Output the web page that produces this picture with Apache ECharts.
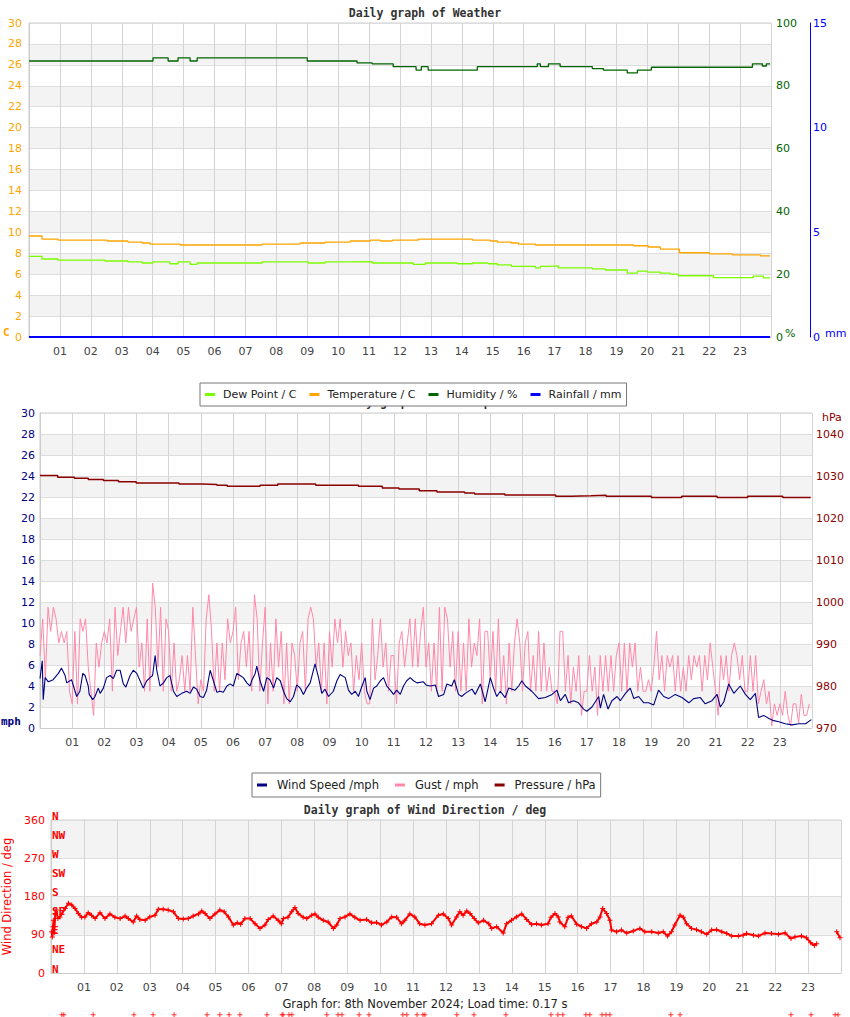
<!DOCTYPE html>
<html><head><meta charset="utf-8">
<script src="https://cdn.jsdelivr.net/npm/echarts@6/dist/echarts.min.js"></script>
<style>html,body{margin:0;padding:0;background:#fff}#c{width:850px;height:1017px}</style>
</head><body><div id="c"></div>
<script>
// ---------- tick labels ----------
const hourLabels = ['01','02','03','04','05','06','07','08','09','10','11','12','13','14','15','16','17','18','19','20','21','22','23'];
const compassLabels = ['N','NE','E','SE','S','SW','W','NW','N'];

// ---------- chart 1: weather (hour, value) ----------
const tempT = [0,0.42,0.94,2.52,3.2,3.66,3.92,4.89,7.54,8.77,9.58,10.39,11.04,11.36,11.75,12.59,14.34,14.92,15.15,15.6,15.83,16.38,19.55,20.03,20.42,21.04,22.01,22.75,23.66,23.97];
const tempV = [9.65,9.36,9.26,9.17,9.07,8.98,8.88,8.79,8.88,8.98,9.07,9.17,9.26,9.17,9.26,9.36,9.26,9.17,9.07,8.98,8.88,8.79,8.72,8.6,8.4,8.05,7.95,7.85,7.75,7.75];
const dewT = [0,0.42,0.94,2.46,3.2,3.66,4.01,4.56,4.82,5.21,5.44,7.54,9.03,9.58,10.23,11.1,12.43,12.82,13.85,14.34,14.85,15.15,15.6,16.38,16.54,16.8,17.12,18.22,18.64,19.35,19.68,20.0,20.42,20.74,21.0,22.14,23.43,23.75,23.97];
const dewV = [7.7,7.45,7.35,7.26,7.17,7.07,7.17,7.0,7.17,6.94,7.07,7.17,7.07,7.17,7.2,7.07,6.94,7.07,7.0,7.07,7.0,6.9,6.75,6.6,6.75,6.8,6.6,6.5,6.4,6.1,6.3,6.2,6.1,6.0,5.85,5.67,5.82,5.65,5.65];
const humT = [0,4.01,4.5,4.82,5.21,5.44,9.0,10.61,11.1,11.78,12.52,12.69,12.91,14.5,16.44,16.54,16.8,17.18,18.22,18.58,19.35,19.68,20.13,23.4,23.72,23.85,23.97];
const humV = [87.9,88.9,87.9,88.9,87.9,88.9,87.9,87.3,87.0,86.1,85.0,86.1,85.0,86.1,87.0,86.1,87.0,86.1,85.5,85.0,84.1,85.0,85.9,87.0,86.3,87.0,87.0];
const rainT = [0,6,12,18,23.97];
const rainV = [0,0,0,0,0];

// ---------- chart 2: wind speed / gust / pressure ----------
const wsT = [0,0.07,0.10,0.16,0.26,0.41,0.57,0.67,0.78,0.83,0.98,1.14,1.24,1.33,1.40,1.50,1.53,1.64,1.71,1.81,1.87,1.97,2.07,2.18,2.28,2.38,2.49,2.59,2.67,2.80,2.90,3.01,3.11,3.21,3.32,3.42,3.50,3.58,3.63,3.73,3.84,3.94,4.04,4.15,4.25,4.41,4.56,4.67,4.77,4.87,4.98,5.08,5.18,5.29,5.39,5.50,5.60,5.70,5.81,5.91,6.01,6.12,6.22,6.32,6.43,6.53,6.58,6.69,6.74,6.84,6.95,7.05,7.15,7.26,7.36,7.47,7.57,7.67,7.78,7.88,7.98,8.09,8.19,8.29,8.40,8.55,8.66,8.76,8.86,8.97,9.12,9.23,9.33,9.49,9.59,9.69,9.80,9.90,10.01,10.11,10.16,10.26,10.37,10.47,10.58,10.68,10.78,10.89,10.99,11.09,11.20,11.30,11.40,11.51,11.61,11.72,11.92,
  12.0,12.13,12.29,12.39,12.55,12.65,12.80,12.88,13.01,13.11,13.22,13.43,13.53,13.69,13.84,14.0,14.1,14.2,14.31,14.46,14.57,14.77,14.88,14.98,15.09,15.29,15.5,15.71,15.92,16.07,16.18,16.33,16.43,16.59,16.74,16.9,17.0,17.16,17.37,17.42,17.52,17.66,17.78,17.94,18.04,18.2,18.35,18.46,18.61,18.77,18.92,19.08,19.23,19.39,19.54,19.75,19.96,20.17,20.32,20.53,20.68,20.89,21.05,21.15,21.26,21.41,21.57,21.77,21.93,22.08,22.24,22.34,22.5,22.66,22.81,22.97,23.17,23.38,23.59,23.8,23.98];
const wsV = [4.7,6.4,2.7,4.8,4.4,4.6,5.2,5.7,5.0,4.3,4.6,3.0,3.5,5.2,5.0,4.0,3.2,2.7,3.0,3.8,3.3,3.8,4.8,5.0,4.7,5.5,5.5,4.2,3.9,5.0,5.5,5.2,4.5,3.8,4.5,4.8,5.0,6.9,5.5,4.0,4.3,4.8,5.0,3.5,3.0,3.3,3.5,3.3,3.9,3.7,3.0,2.9,3.6,5.5,4.5,3.4,3.5,3.4,4.0,4.2,4.0,5.2,5.0,4.8,4.3,4.0,4.5,5.2,5.9,4.5,3.5,4.8,4.6,3.8,4.8,4.5,3.5,2.8,2.5,3.0,4.1,3.8,3.2,3.8,4.3,6.1,4.8,3.3,3.7,3.0,3.5,4.5,5.1,4.8,3.6,3.2,3.5,3.0,4.0,4.8,3.5,2.7,3.8,4.0,4.5,4.8,4.0,3.6,3.2,3.6,3.2,4.0,4.5,4.8,4.5,4.3,4.4,
  4.1,4.0,4.1,3.0,3.2,4.2,4.0,4.6,3.2,3.0,3.3,3.7,3.2,4.2,2.5,4.8,3.8,3.0,3.5,2.9,3.8,3.6,4.0,4.5,4.0,3.5,2.8,2.9,3.2,3.6,2.6,3.2,2.4,2.6,2.4,1.8,1.6,2.0,3.0,1.9,3.2,1.8,2.6,3.0,2.6,3.3,3.8,2.8,3.0,2.4,2.4,2.2,3.6,3.0,2.8,3.2,2.9,2.4,2.8,2.9,2.3,2.6,3.2,2.0,2.5,4.2,3.3,4.0,3.2,2.7,3.3,1.0,1.2,0.9,0.7,0.6,0.4,0.3,0.4,0.4,0.8];
// gust: one reading every 5 minutes, one row per hour
const gustV = [
  6.9,10.4,4.6,11.5,9.2,11.5,10.4,8.1,9.2,8.1,9.2,3.5,
  2.3,9.2,2.3,10.4,9.2,10.4,5.8,3.5,1.2,8.1,5.8,8.1,
  9.2,8.1,10.4,3.5,11.5,6.9,9.2,11.5,8.1,11.5,9.2,10.4,
  11.5,5.8,8.1,3.5,10.4,3.5,13.8,11.5,5.8,11.5,3.5,10.4,
  9.2,3.5,8.1,3.5,4.6,6.9,3.5,6.9,3.5,11.5,6.9,2.3,
  4.6,3.5,10.4,12.7,9.2,3.5,8.1,3.5,8.1,4.6,10.4,8.1,
  9.2,11.5,4.6,8.1,9.2,5.8,9.2,3.5,12.7,10.4,3.5,8.1,
  11.5,2.3,8.1,3.5,10.4,5.8,9.2,2.3,8.1,2.3,8.1,6.9,
  3.5,8.1,9.2,3.5,10.4,11.5,10.4,5.8,8.1,3.5,8.1,2.3,
  9.2,5.8,10.4,8.1,10.4,5.8,9.2,6.9,8.1,3.5,6.9,4.6,
  8.1,3.5,2.3,2.3,10.4,4.6,6.9,10.4,5.8,8.1,3.5,6.9,
  6.9,2.3,8.1,9.2,5.8,8.1,10.4,5.8,10.4,5.8,9.2,11.5,
  5.8,8.1,3.5,8.1,3.5,11.5,3.5,11.5,10.4,5.8,9.2,3.5,
  9.2,3.5,8.1,3.5,10.4,5.8,8.1,6.9,10.4,2.3,9.2,9.2,
  4.6,9.2,3.5,10.4,3.5,6.9,2.3,8.1,3.5,8.1,10.4,8.1,
  3.5,8.1,9.2,3.5,6.9,3.5,9.2,3.5,8.1,3.5,5.8,3.5,
  3.5,2.3,9.2,9.2,3.5,6.9,2.3,5.8,3.5,6.9,1.2,3.5,
  3.5,6.9,3.5,5.8,1.2,6.9,3.5,6.9,3.5,6.9,3.5,6.9,
  8.1,3.5,8.1,3.5,8.1,5.8,8.1,3.5,5.8,3.5,3.5,4.6,
  3.5,5.8,9.2,4.6,6.9,3.5,6.9,5.8,6.9,3.5,6.9,3.5,
  5.8,3.5,6.9,4.6,6.9,5.8,6.9,3.5,6.9,4.6,8.1,5.8,
  3.5,1.2,6.9,4.6,6.9,3.5,6.9,8.1,6.9,4.6,6.9,3.5,
  3.5,6.9,3.5,6.9,2.3,3.5,4.6,2.3,3.5,0.2,2.3,1.2,
  2.3,1.2,3.5,1.2,0.2,2.3,2.3,0.5,3.2,1.2,1.2,2.3];
const presT = [0,0.55,1.07,1.5,1.97,2.44,2.99,4.32,5.03,5.5,5.82,6.84,7.39,8.57,9.9,10.64,11.16,11.79,12.34,13.2,13.51,14.45,16.03,16.5,17.13,17.6,19.01,19.95,21.05,22.0,23.09,23.96];
const presV = [1030.1,1029.7,1029.45,1029.15,1028.9,1028.65,1028.35,1028.1,1028.0,1027.8,1027.55,1027.8,1028.1,1027.8,1027.55,1027.15,1026.9,1026.5,1026.2,1025.95,1025.7,1025.45,1025.2,1025.3,1025.4,1025.15,1024.9,1025.15,1024.9,1025.15,1024.9,1024.9];

// ---------- chart 3: wind direction ----------
const dirT = [0.02,0.04,0.06,0.08,0.10,0.13,0.16,0.21,0.27,0.43,0.53,0.63,0.73,0.83,0.93,1.03,1.13,1.23,1.34,1.49,1.64,1.79,1.94,2.1,2.25,2.35,2.5,2.6,2.7,2.86,3.0,3.16,3.26,3.41,3.56,3.72,3.87,4.02,4.17,4.32,4.48,4.58,4.68,4.83,4.98,5.13,5.26,5.39,5.54,5.66,5.76,5.89,6.05,6.2,6.35,6.5,6.6,6.75,6.9,7.0,7.06,7.2,7.31,7.41,7.51,7.66,7.77,7.92,8.02,8.12,8.27,8.42,8.58,8.68,8.78,8.93,9.08,9.23,9.39,9.59,9.74,9.89,10.04,10.2,10.35,10.5,10.65,10.75,10.9,11.05,11.2,11.36,11.56,11.77,11.92,12.07,12.17,12.32,12.42,12.52,12.63,12.73,12.86,12.98,13.14,13.3,13.39,13.54,13.74,13.84,13.99,14.14,14.3,14.45,14.6,14.75,14.9,15.1,15.19,15.31,15.41,15.46,15.61,15.71,15.81,15.97,16.12,16.27,16.42,16.58,16.68,16.76,16.88,16.98,17.03,17.18,17.33,17.49,17.69,17.89,18.04,18.25,18.45,18.6,18.73,18.85,18.95,19.11,19.21,19.31,19.46,19.61,19.76,19.92,20.07,20.22,20.38,20.53,20.68,20.88,21.03,21.13,21.34,21.49,21.69,21.89,22.1,22.3,22.48,22.6,22.8,22.95,23.08,23.19,23.26,23.5,23.87,23.97];
const dirV = [97,85,109,124,95,140,148,128,132,152,164,160,152,140,131,132,142,136,128,142,128,139,131,128,134,128,120,134,126,124,132,136,150,150,148,144,128,127,128,134,139,146,140,128,139,148,144,132,113,118,115,128,128,116,105,113,126,134,124,116,128,131,144,154,140,131,128,136,139,131,124,120,105,113,128,132,139,131,124,126,118,119,113,120,132,131,116,124,139,132,116,113,116,136,139,128,113,132,144,136,146,140,128,118,124,116,105,109,94,116,124,132,139,126,114,116,113,116,131,140,132,120,109,131,134,115,109,105,116,120,132,152,140,124,101,97,101,94,99,105,97,97,94,97,87,97,113,136,131,116,105,102,97,91,101,102,97,93,87,87,89,93,89,87,94,93,91,94,81,85,87,83,71,65,69,null,97,83];
// readings plotted below the scale (off-chart markers)
const offT = [0.33,0.39,1.28,2.52,3.10,3.74,4.74,5.13,5.41,5.74,6.56,7.02,7.05,7.23,7.32,8.38,8.72,8.84,9.36,9.66,10.69,10.81,11.12,11.30,11.36,12.33,12.85,13.82,15.19,15.40,15.55,16.25,16.37,16.74,16.86,16.98,18.83,19.11,22.48,23.09,23.82,23.91];
const offV = [-98,-98,-98,-98,-98,-98,-98,-98,-98,-98,-98,-98,-98,-98,-98,-98,-98,-98,-98,-98,-98,-98,-98,-98,-98,-98,-98,-98,-98,-98,-98,-98,-98,-98,-98,-98,-98,-98,-98,-98,-98,-98];

// ---------- build ----------
const SANS = 'DejaVu Sans', MONO = 'DejaVu Sans Mono';
const zip = (t, v) => t.map((x, i) => [x, v[i]]);
const gustData = gustV.map((v, i) => [i / 12, v]);
const hourFmt = v => (v >= 1 && v <= 23) ? hourLabels[v - 1] : '';
const PLUS = 'path://M2,0H3V2H5V3H3V5H2V3H0V2H2Z';

function xAx(gi) {
  return { type: 'value', gridIndex: gi, min: 0, max: 24, interval: 1,
    axisLine: { show: true, lineStyle: { color: '#cccccc' } }, axisTick: { show: false },
    axisLabel: { formatter: hourFmt, color: '#444', fontSize: 11, fontFamily: SANS, margin: 9 },
    splitLine: { show: true, lineStyle: { color: '#d4d4d4', width: 1 } } };
}
function yAx(o) {
  return Object.assign({ type: 'value', axisTick: { show: false }, splitLine: { show: false },
    axisLine: { show: false } }, o);
}
const bands = { show: true, areaStyle: { color: ['#ffffff', '#f3f3f3'] } };
const hLines = { show: true, lineStyle: { color: '#dddddd', width: 1 } };
const greyLine = { show: true, lineStyle: { color: '#cccccc' } };

const option = {
  animation: false,
  backgroundColor: '#fff',
  title: [
    { text: 'Daily graph of Weather', left: 'center', top: 7, padding: 0, z: 1,
      textStyle: { fontFamily: MONO, fontWeight: 'bold', fontSize: 11.5, color: '#333' } },
    { text: 'Daily graph of Wind Speed', left: 'center', top: 396, padding: 0, z: 1,
      textStyle: { fontFamily: MONO, fontWeight: 'bold', fontSize: 11.5, color: '#333' } },
    { text: 'Daily graph of Wind Direction / deg', left: 'center', top: 804, padding: 0, z: 1,
      textStyle: { fontFamily: MONO, fontWeight: 'bold', fontSize: 11.5, color: '#333' } },
    { text: 'Graph for: 8th November 2024; Load time: 0.17 s', left: 'center', top: 998, padding: 0, z: 1,
      textStyle: { fontFamily: SANS, fontWeight: 'normal', fontSize: 11.5, color: '#222' } }
  ],
  legend: [
    { data: ['Dew Point / C', 'Temperature / C', 'Humidity / %', 'Rainfall / mm'],
      left: 200, top: 383, icon: 'rect', itemWidth: 10, itemHeight: 3, itemGap: 13,
      padding: [6, 5, 6, 5], borderColor: '#777', borderWidth: 1, backgroundColor: '#fff', z: 20,
      textStyle: { fontFamily: SANS, fontSize: 11, color: '#222', padding: [0, 0, 0, 3] } },
    { data: ['Wind Speed /mph', 'Gust / mph', 'Pressure / hPa'],
      left: 252, top: 773, icon: 'rect', itemWidth: 10, itemHeight: 3, itemGap: 16,
      padding: [6, 5, 6, 5], borderColor: '#777', borderWidth: 1, backgroundColor: '#fff', z: 20,
      textStyle: { fontFamily: SANS, fontSize: 11.5, color: '#222', padding: [0, 0, 0, 5] } }
  ],
  grid: [
    { left: 29, top: 23, width: 742, height: 314, outerBoundsMode: 'none', containLabel: false,
      show: true, borderColor: '#cccccc', borderWidth: 1, backgroundColor: 'transparent' },
    { left: 40, top: 413, width: 772, height: 315, outerBoundsMode: 'none', containLabel: false,
      show: true, borderColor: '#cccccc', borderWidth: 1, backgroundColor: 'transparent' },
    { left: 51, top: 820, width: 790, height: 153, outerBoundsMode: 'none', containLabel: false,
      show: true, borderColor: '#cccccc', borderWidth: 1, backgroundColor: 'transparent' }
  ],
  xAxis: [xAx(0), xAx(1), xAx(2)],
  yAxis: [
    yAx({ gridIndex: 0, position: 'left', min: 0, max: 30, interval: 2, axisLine: greyLine,
      axisLabel: { color: '#ffa500', fontSize: 11, fontFamily: SANS, margin: 7 },
      splitLine: hLines, splitArea: bands }),
    yAx({ gridIndex: 0, position: 'right', min: 0, max: 100, interval: 20,
      axisLabel: { color: '#006400', fontSize: 11, fontFamily: SANS, margin: 5 } }),
    yAx({ gridIndex: 0, position: 'right', offset: 39, min: 0, max: 15, interval: 5,
      axisLine: { show: true, lineStyle: { color: '#0000ff', width: 1 } },
      axisLabel: { color: '#0000ff', fontSize: 11, fontFamily: SANS, margin: 3 } }),
    yAx({ gridIndex: 1, position: 'left', min: 0, max: 30, interval: 2, axisLine: greyLine,
      axisLabel: { color: '#000080', fontSize: 11, fontFamily: SANS, margin: 5 },
      splitLine: hLines, splitArea: bands }),
    yAx({ gridIndex: 1, position: 'right', min: 970, max: 1045, interval: 10,
      axisLabel: { color: '#8b0000', fontSize: 11, fontFamily: SANS, margin: 4, showMaxLabel: false,
        formatter: v => (v % 10 === 0 ? String(v) : '') } }),
    yAx({ gridIndex: 2, position: 'left', min: 0, max: 360, interval: 90, axisLine: greyLine,
      axisLabel: { color: '#ff0000', fontSize: 11, fontFamily: SANS, margin: 6 },
      name: 'Wind Direction / deg', nameLocation: 'middle', nameGap: 37, nameRotate: 90,
      nameTextStyle: { color: '#ff0000', fontSize: 11.5, fontFamily: SANS },
      splitLine: hLines, splitArea: bands }),
    yAx({ gridIndex: 2, position: 'left', min: 0, max: 360, interval: 45,
      axisLabel: { inside: true, margin: 1, color: '#ff0000', fontSize: 11, fontFamily: MONO, fontWeight: 'bold',
        verticalAlign: 'bottom', lineHeight: 8, align: 'left',
        formatter: v => compassLabels[Math.round(v / 45)] || '' } })
  ],
  series: [
    { name: 'Dew Point / C', type: 'line', xAxisIndex: 0, yAxisIndex: 0, data: zip(dewT, dewV), step: 'end',
      showSymbol: false, lineStyle: { color: '#7cfc00', width: 1.3 }, itemStyle: { color: '#7cfc00' } },
    { name: 'Temperature / C', type: 'line', xAxisIndex: 0, yAxisIndex: 0, data: zip(tempT, tempV), step: 'end',
      showSymbol: false, lineStyle: { color: '#ffa500', width: 1.3 }, itemStyle: { color: '#ffa500' } },
    { name: 'Humidity / %', type: 'line', xAxisIndex: 0, yAxisIndex: 1, data: zip(humT, humV), step: 'end',
      showSymbol: false, lineStyle: { color: '#006400', width: 1.3 }, itemStyle: { color: '#006400' } },
    { name: 'Rainfall / mm', type: 'line', xAxisIndex: 0, yAxisIndex: 2, data: zip(rainT, rainV),
      showSymbol: false, lineStyle: { color: '#0000ff', width: 2 }, itemStyle: { color: '#0000ff' } },
    { name: 'Gust / mph', type: 'line', xAxisIndex: 1, yAxisIndex: 3, data: gustData,
      showSymbol: false, lineStyle: { color: '#ff88aa', width: 1 }, itemStyle: { color: '#ff88aa' } },
    { name: 'Wind Speed /mph', type: 'line', xAxisIndex: 1, yAxisIndex: 3, data: zip(wsT, wsV),
      showSymbol: false, lineStyle: { color: '#000080', width: 1.1 }, itemStyle: { color: '#000080' } },
    { name: 'Pressure / hPa', type: 'line', xAxisIndex: 1, yAxisIndex: 4, data: zip(presT, presV), step: 'end',
      showSymbol: false, lineStyle: { color: '#8b0000', width: 1.5 }, itemStyle: { color: '#8b0000' } },
    { name: 'Wind Direction / deg', type: 'line', xAxisIndex: 2, yAxisIndex: 5, data: zip(dirT, dirV),
      connectNulls: false, showSymbol: true, symbol: PLUS, symbolSize: 5,
      lineStyle: { color: '#ff0000', width: 2 }, itemStyle: { color: '#ff0000' } },
    { name: 'off-scale', type: 'scatter', xAxisIndex: 2, yAxisIndex: 5, data: zip(offT, offV), clip: false,
      symbol: PLUS, symbolSize: 5, itemStyle: { color: '#ff0000' } }
  ],
  graphic: [
    { type: 'text', x: 3, y: 327, z: 100, style: { text: 'C', fill: '#ffa500', font: 'bold 11px DejaVu Sans Mono', verticalAlign: 'top' } },
    { type: 'text', x: 785, y: 328, z: 100, style: { text: '%', fill: '#006400', font: '11px DejaVu Sans', verticalAlign: 'top' } },
    { type: 'text', x: 825, y: 328, z: 100, style: { text: 'mm', fill: '#0000ff', font: '11px DejaVu Sans', verticalAlign: 'top' } },
    { type: 'text', x: 1, y: 716, z: 100, style: { text: 'mph', fill: '#000080', font: 'bold 11px DejaVu Sans Mono', verticalAlign: 'top' } },
    { type: 'text', x: 822, y: 412, z: 100, style: { text: 'hPa', fill: '#8b0000', font: '11px DejaVu Sans', verticalAlign: 'top' } }
  ]
};
const chart = echarts.init(document.getElementById('c'), null, { renderer: 'svg', width: 850, height: 1017 });
chart.setOption(option);
</script>
</body></html>
